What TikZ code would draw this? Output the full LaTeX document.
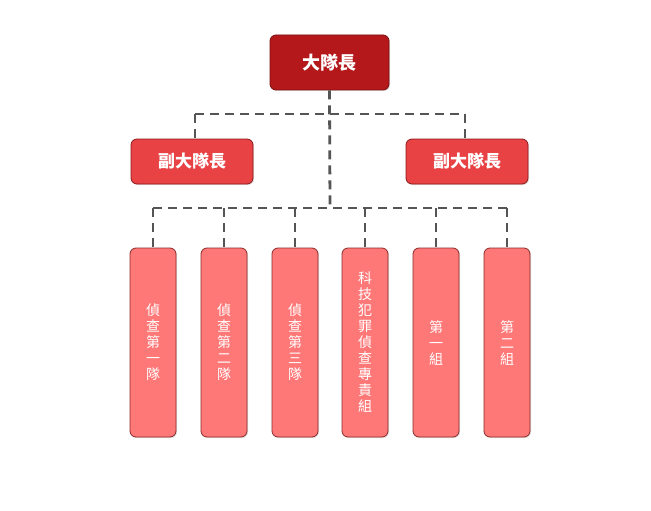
\documentclass[tikz,border=0pt]{standalone}
\usepackage{fontspec}
\setmainfont{Noto Sans CJK TC}
\usetikzlibrary{shadows}
\definecolor{topfill}{HTML}{B5181B}
\definecolor{topdraw}{HTML}{7A0E10}
\definecolor{depfill}{HTML}{E84245}
\definecolor{depdraw}{HTML}{8B1A1A}
\definecolor{botfill}{HTML}{FF7878}
\definecolor{botdraw}{HTML}{8B2A2A}
\definecolor{linec}{HTML}{555555}
\begin{document}
\begin{tikzpicture}[x=1pt,y=-1pt,
  topbox/.style={draw=topdraw,fill=topfill,line width=0.8pt,rounded corners=6pt,minimum width=119pt,minimum height=55pt,inner sep=0pt,text=white,font=\fontsize{18}{20}\selectfont\bfseries,drop shadow={shadow xshift=1pt,shadow yshift=-1pt,opacity=0.25}},
  depbox/.style={draw=depdraw,fill=depfill,line width=0.8pt,rounded corners=6pt,minimum width=122pt,minimum height=45pt,inner sep=0pt,text=white,font=\fontsize{17}{19}\selectfont\bfseries,drop shadow={shadow xshift=1pt,shadow yshift=-1pt,opacity=0.25}},
  botbox/.style={draw=botdraw,fill=botfill,line width=0.8pt,rounded corners=6pt,minimum width=46pt,minimum height=189pt,inner sep=0pt,text=white,align=center,font=\fontsize{14}{16}\selectfont,drop shadow={shadow xshift=1pt,shadow yshift=-1pt,opacity=0.25}},
  conn/.style={draw=linec,line width=2.8pt,dash pattern=on 9pt off 6pt}
]
\useasboundingbox (0,0) rectangle (651,511);
\fill[white] (0,0) rectangle (651,511);

\coordinate (j2) at (330,208);
\coordinate (jl) at (195,114);
\coordinate (jr) at (465,114);
\coordinate (b1) at (153,208);
\coordinate (b6) at (507,208);

\node[topbox] (top) at (329.5,62.5) {大隊長};
\node[depbox] (dl) at (192,161.5) {副大隊長};
\node[depbox] (dr) at (467,161.5) {副大隊長};
\node[botbox] (c1) at (153,342.5) {偵\\查\\第\\一\\隊};
\node[botbox] (c2) at (224,342.5) {偵\\查\\第\\二\\隊};
\node[botbox] (c3) at (295,342.5) {偵\\查\\第\\三\\隊};
\node[botbox] (c4) at (365,342.5) {科\\技\\犯\\罪\\偵\\查\\專\\責\\組};
\node[botbox] (c5) at (436,342.5) {第\\一\\組};
\node[botbox] (c6) at (507,342.5) {第\\二\\組};

\path[conn] (top.south) -- (j2);
\path[conn] (jl) -- (jr);
\path[conn] (jl) -- (jl |- dl.north);
\path[conn] (jr) -- (jr |- dr.north);
\path[conn] (b1) -- (b6);
\foreach \n in {c1,c2,c3,c4,c5,c6}{
  \path[conn] (\n.north |- j2) -- (\n.north);
}
\end{tikzpicture}
\end{document}
